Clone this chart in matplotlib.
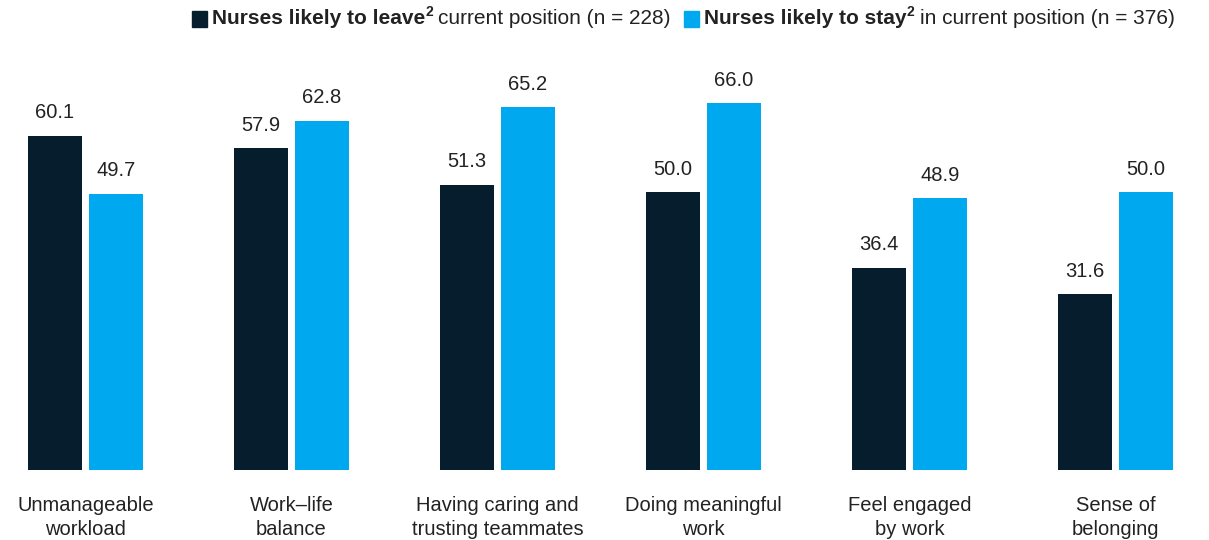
import matplotlib.pyplot as plt
import numpy as np

categories = ['Unmanageable\nworkload', 'Work\u2013life\nbalance', 'Having caring and\ntrusting teammates',
              'Doing meaningful\nwork', 'Feel engaged\nby work', 'Sense of\nbelonging']
leave = [60.1, 57.9, 51.3, 50.0, 36.4, 31.6]
stay = [49.7, 62.8, 65.2, 66.0, 48.9, 50.0]

dark = '#061D2D'
blue = '#00A8F0'
plt.rcParams['font.family'] = ['Liberation Sans', 'DejaVu Sans']

W, H = 1209, 540
fig = plt.figure(figsize=(W / 100, H / 100), dpi=100)
ax = fig.add_axes([0, 70 / H, 1, 430 / H])

x = np.arange(len(categories))
bw = 0.262
off = 0.148
ax.bar(x - off, leave, bw, color=dark)
ax.bar(x + off, stay, bw, color=blue)

fs = 14.5
for i in range(len(categories)):
    ax.text(x[i] - off, leave[i] + 2.4, f'{leave[i]:.1f}', ha='center', va='bottom', fontsize=fs, color='#222222')
    ax.text(x[i] + off, stay[i] + 2.4, f'{stay[i]:.1f}', ha='center', va='bottom', fontsize=fs, color='#222222')
    ax.text(x[i], -4.6, categories[i], ha='center', va='top', fontsize=fs, color='#222222', linespacing=1.33)

ax.set_xlim(-85.5 / 206, (W - 85.5) / 206)
ax.set_ylim(0, 430 / 5.56)
ax.axis('off')

# legend built from pieces
fig.canvas.draw()
r = fig.canvas.get_renderer()
ypos = 1 - 19 / H
lfs = 15


def piece(xp, s, **kw):
    t = fig.text(xp / W, ypos, s, va='center', ha='left', fontsize=lfs, color='#222222', **kw)
    bb = t.get_window_extent(renderer=r)
    return bb.x1


def entry(xp, color, bold, rest):
    fig.patches.append(plt.Rectangle((xp / W, 1 - 27 / H), 15 / W, 16 / H, transform=fig.transFigure,
                                     color=color, figure=fig))
    xp += 20
    xp = piece(xp, bold, fontweight='bold')
    t = fig.text(xp / W, 1 - 12 / H, '2', va='center', ha='left', fontsize=10, fontweight='bold', color='#222222')
    xp = t.get_window_extent(renderer=r).x1 + 5
    return piece(xp, rest)


xe = entry(192, dark, 'Nurses likely to leave', 'current position (n = 228)')
entry(xe + 14, blue, 'Nurses likely to stay', 'in current position (n = 376)')

fig.savefig('out.png', dpi=100)
